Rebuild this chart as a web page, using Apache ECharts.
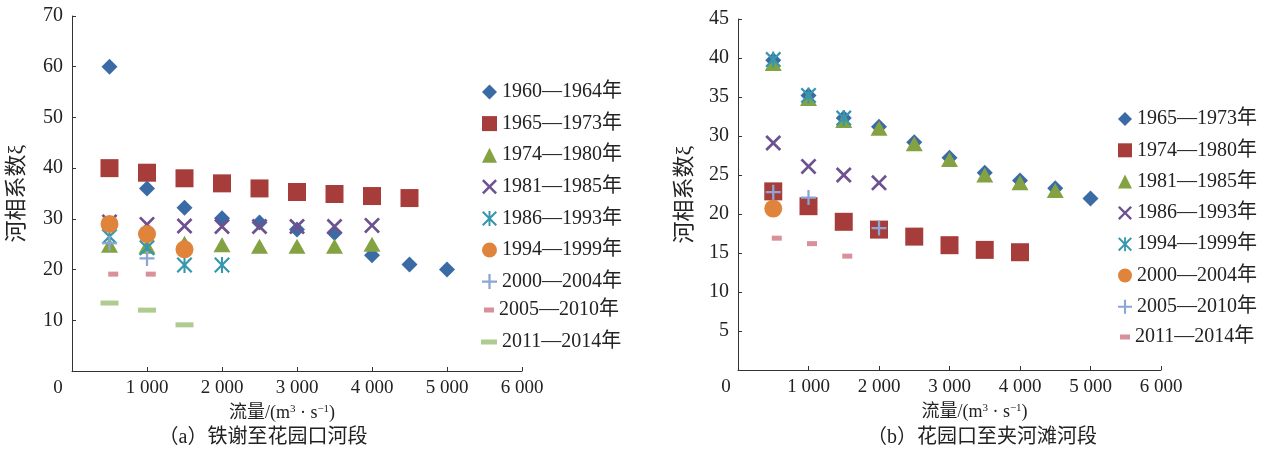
<!DOCTYPE html>
<html>
<head>
<meta charset="utf-8">
<script src="https://cdn.jsdelivr.net/npm/echarts@6/dist/echarts.min.js"></script>
<style>html,body{margin:0;padding:0;background:#fff}#c{width:1276px;height:455px}</style>
</head>
<body>
<div id="c"></div>
<script>
// ---------- data ----------
const xTicks = [0, 1000, 2000, 3000, 4000, 5000, 6000];
const yTicksA = [10, 20, 30, 40, 50, 60, 70];
const yTicksB = [5, 10, 15, 20, 25, 30, 35, 40, 45];
const flows = [500, 1000, 1500, 2000, 2500, 3000, 3500, 4000, 4500, 5000];
const flowsDash = [550, 1050, 1550];
const flowsPlusB = [500, 1000, 2000];

// (a) 铁谢至花园口河段
const namesA = ['1960—1964年', '1965—1973年', '1974—1980年', '1981—1985年', '1986—1993年',
                '1994—1999年', '2000—2004年', '2005—2010年', '2011—2014年'];
const a1960_1964 = [60, 36, 32.2, 30.1, 29.3, 27.9, 27.2, 22.8, 21, 20];
const a1965_1973 = [40, 39.1, 38, 37, 36, 35.3, 34.9, 34.5, 34.1];
const a1974_1980 = [24.8, 24.6, 25.2, 24.9, 24.6, 24.6, 24.6, 25];
const a1981_1985 = [29.4, 28.9, 28.6, 28.5, 28.5, 28.5, 28.5, 28.7];
const a1986_1993 = [26.5, 24.3, 20.9, 20.9];
const a1994_1999 = [29, 27, 24];
const a2000_2004 = [25.2, 22.2];
const a2005_2010 = [19.1, 19.1];
const a2011_2014 = [13.4, 12, 9.1];

// (b) 花园口至夹河滩河段
const namesB = ['1965—1973年', '1974—1980年', '1981—1985年', '1986—1993年', '1994—1999年',
                '2000—2004年', '2005—2010年', '2011—2014年'];
const b1965_1973 = [39.7, 35.2, 32.3, 31.2, 29.2, 27.2, 25.3, 24.3, 23.3, 22];
const b1974_1980 = [22.9, 21, 19, 18, 17.1, 16, 15.4, 15.1];
const b1981_1985 = [39.3, 34.8, 32, 31, 29, 27, 25, 24, 23];
const b1986_1993 = [29.1, 26.1, 25, 24];
const b1994_1999 = [39.8, 35.2, 32.3];
const b2000_2004 = [20.7];
const b2005_2010 = [22.8, 22.1, 18.2];
const b2011_2014 = [16.9, 16.2, 14.6];

// ---------- styles ----------
const FONT = "'Liberation Serif', 'Noto Sans CJK SC', serif";
const C = {
  blue: '#3b6ba5', red: '#a73d3b', green: '#84a242', purple: '#6d5190',
  teal: '#3797ae', orange: '#e0843b', lblue: '#8ba6d3', pink: '#d9909a', lgreen: '#afcb8f'
};
const SYM_X = 'path://M0,1.2L1.2,0L5,3.8L8.8,0L10,1.2L6.2,5L10,8.8L8.8,10L5,6.2L1.2,10L0,8.8L3.8,5Z';
const SYM_AST = 'path://M0,1L1,0L5,4L9,0L10,1L6,5L10,9L9,10L5,6L1,10L0,9L4,5Z M4.35,0H5.65V10H4.35Z';
const SYM_PLUS = 'path://M4.25,0H5.75V4.25H10V5.75H5.75V10H4.25V5.75H0V4.25H4.25Z';

function zip(xs, ys) { return ys.map((v, i) => [xs[i], v]); }
function sc(name, gi, xs, ys, symbol, size, color) {
  return { type: 'scatter', name: name, xAxisIndex: gi, yAxisIndex: gi, data: zip(xs, ys),
    symbol: symbol, symbolSize: size, itemStyle: { color: color, opacity: 1 },
    emphasis: { disabled: true }, animation: false };
}
const P = 'b:';

const series = [
  sc(namesA[0], 0, flows, a1960_1964, 'diamond', 16, C.blue),
  sc(namesA[1], 0, flows, a1965_1973, 'rect', 18, C.red),
  sc(namesA[2], 0, flows, a1974_1980, 'triangle', [17, 15], C.green),
  sc(namesA[3], 0, flows, a1981_1985, SYM_X, 16, C.purple),
  sc(namesA[4], 0, flows, a1986_1993, SYM_AST, 16, C.teal),
  sc(namesA[5], 0, flows, a1994_1999, 'circle', 18, C.orange),
  sc(namesA[6], 0, flows, a2000_2004, SYM_PLUS, 15, C.lblue),
  sc(namesA[7], 0, flowsDash, a2005_2010, 'rect', [10, 5], C.pink),
  sc(namesA[8], 0, flows, a2011_2014, 'rect', [18, 5], C.lgreen),

  sc(P + namesB[0], 1, flows, b1965_1973, 'diamond', 16, C.blue),
  sc(P + namesB[1], 1, flows, b1974_1980, 'rect', 18, C.red),
  sc(P + namesB[2], 1, flows, b1981_1985, 'triangle', [17, 15], C.green),
  sc(P + namesB[3], 1, flows, b1986_1993, SYM_X, 16, C.purple),
  sc(P + namesB[4], 1, flows, b1994_1999, SYM_AST, 16, C.teal),
  sc(P + namesB[5], 1, flows, b2000_2004, 'circle', 18, C.orange),
  sc(P + namesB[6], 1, flowsPlusB, b2005_2010, SYM_PLUS, 15, C.lblue),
  sc(P + namesB[7], 1, flowsDash, b2011_2014, 'rect', [10, 5], C.pink)
];

const legText = { fontSize: 20, fontFamily: FONT, color: '#222', lineHeight: 20 };
function leg(data, left, top, w, h, gap, itemGap) {
  return { data: data, orient: 'vertical', left: left, top: top, padding: 0,
    itemWidth: w, itemHeight: h, itemGap: itemGap, itemTextGap: gap, selectedMode: false,
    textStyle: legText, formatter: n => n.replace(P, '') };
}

function fmtX(v) {
  return v === 0 ? '{z|0}' : (String(v / 1000) + ' 000');
}
function xAxis(gi, pad, namePad) {
  return {
    type: 'value', gridIndex: gi, min: 0, max: 6000, interval: 1000,
    axisLine: { show: true, onZero: false, lineStyle: { color: '#333', width: 1 } },
    axisTick: { show: true, inside: true, length: 4, lineStyle: { color: '#333' } },
    splitLine: { show: false },
    axisLabel: { fontSize: 19, fontFamily: FONT, color: '#222', margin: 8,
      formatter: fmtX, rich: { z: { fontSize: 19, fontFamily: FONT, color: '#222', padding: [0, pad, 0, 0] } } },
    name: '流量/(m{sup|3} · s{sup|−1})', nameLocation: 'middle', nameGap: 33,
    nameTextStyle: { fontSize: 18, fontFamily: FONT, color: '#222', padding: namePad,
      rich: { sup: { fontSize: 11, fontFamily: FONT, color: '#222', verticalAlign: 'top' } } }
  };
}
function yAxis(gi, max, interval, gap) {
  return {
    type: 'value', gridIndex: gi, min: 0, max: max, interval: interval,
    axisLine: { show: true, lineStyle: { color: '#333', width: 1 } },
    axisTick: { show: true, inside: true, length: 4, lineStyle: { color: '#333' } },
    splitLine: { show: false },
    axisLabel: { fontSize: 20, fontFamily: FONT, color: '#222', margin: 9, showMinLabel: false },
    name: '河相系数ξ', nameLocation: 'middle', nameGap: gap,
    nameTextStyle: { fontSize: 22, fontFamily: FONT, color: '#222' }
  };
}

const option = {
  backgroundColor: '#fff',
  animation: false,
  grid: [
    { left: 72, top: 16, width: 450, height: 355 },
    { left: 738, top: 19, width: 423, height: 351 }
  ],
  xAxis: [xAxis(0, 28, [0, 30, 0, 0]), xAxis(1, 24, [0, 0, 0, 50])],
  yAxis: [yAxis(0, 70, 10, 44), yAxis(1, 45, 5, 42)],
  legend: [
    leg(namesA.slice(0, 7), 482, 82, 15, 15, 5, 11.6),
    leg([namesA[7]], 484, 300, 10, 5, 9, 11),
    leg([namesA[8]], 481, 332, 16, 5, 6, 11),
    leg(namesB.slice(0, 7).map(n => P + n), 1118, 109, 14, 14, 7, 11.3),
    leg([P + namesB[7]], 1120, 327, 10, 5, 9, 11)
  ],
  graphic: [
    { type: 'text', x: 263, y: 438, style: { text: '（a）铁谢至花园口河段', font: "20px 'Liberation Serif', 'Noto Sans CJK SC', serif",
      fill: '#222', align: 'center', verticalAlign: 'middle' } },
    { type: 'text', x: 982, y: 438, style: { text: '（b）花园口至夹河滩河段', font: "20px 'Liberation Serif', 'Noto Sans CJK SC', serif",
      fill: '#222', align: 'center', verticalAlign: 'middle' } }
  ],
  series: series
};

const chart = echarts.init(document.getElementById('c'), null, { renderer: 'canvas' });
chart.setOption(option);
</script>
</body>
</html>
